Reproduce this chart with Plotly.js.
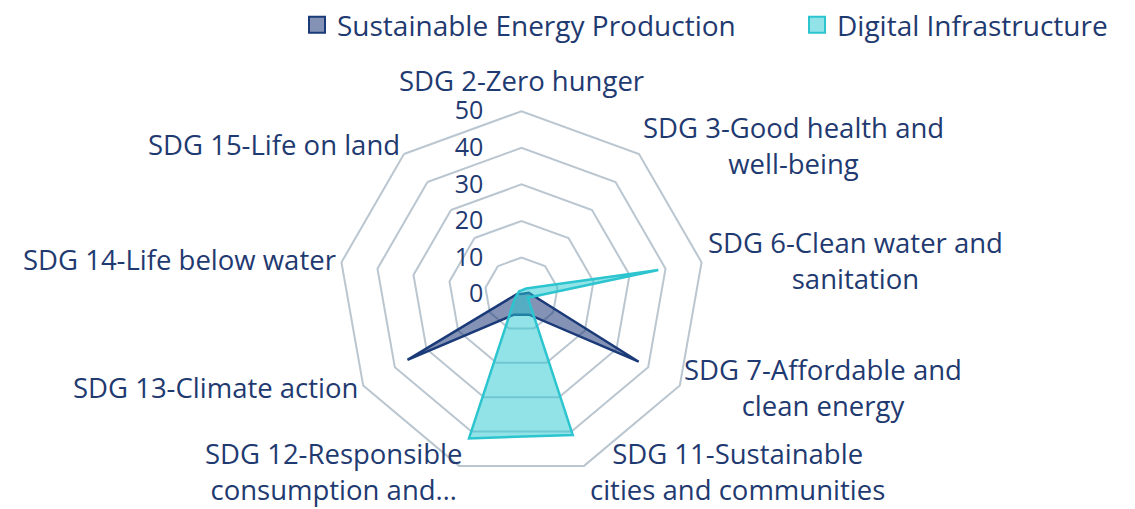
<!DOCTYPE html>
<html>
<head>
<meta charset="utf-8">
<script src="https://cdn.plot.ly/plotly-3.0.1.min.js"></script>
<style>html,body{margin:0;padding:0;background:#fff;}#chart{width:1135px;height:509px;}</style>
</head>
<body>
<div id="chart"></div>
<script>
var categories = [
  "SDG 2-Zero hunger",
  "SDG 3-Good health and<br>well-being",
  "SDG 6-Clean water and<br>sanitation",
  "SDG 7-Affordable and<br>clean energy",
  "SDG 11-Sustainable<br>cities and communities",
  "SDG 12-Responsible<br>consumption and…",
  "SDG 13-Climate action",
  "SDG 14-Life below water",
  "SDG 15-Life on land"
];
var sustainableEnergy = [0, 0, 2, 37, 6, 6, 36, 1, 0];
var digitalInfra = [1, 2, 38, 2, 41, 42, 2, 1, 1];
var radialTicks = [0, 10, 20, 30, 40, 50];

// label block centres (pixels) for the category labels, layout only
var labelPx = [[521, 68], [793, 135], [855, 253], [823, 384], [737, 470], [333, 470], [215, 384], [179, 252], [274, 134]];

var W = 1135, H = 509;
var textColor = "#1F3A70";
var gridColor = "#BAC6D0";
var fontFamily = "Open Sans, sans-serif";
var energyLine = "#1B3A78", energyFill = "rgba(31,58,120,0.55)";
var digitalLine = "#2CC5CF", digitalFill = "rgba(38,200,210,0.5)";

function closed(arr) { return arr.concat([arr[0]]); }

var traces = [
  {
    type: "scatterpolar",
    name: "Sustainable Energy Production",
    r: closed(sustainableEnergy),
    theta: closed(categories),
    mode: "lines",
    fill: "toself",
    fillcolor: energyFill,
    line: {color: energyLine, width: 2.5},
    showlegend: false,
    legendgroup: "e"
  },
  {
    type: "scatterpolar",
    name: "Digital Infrastructure",
    r: closed(digitalInfra),
    theta: closed(categories),
    mode: "lines",
    fill: "toself",
    fillcolor: digitalFill,
    line: {color: digitalLine, width: 2.5},
    showlegend: false,
    legendgroup: "d"
  },
  {
    type: "scatterpolar",
    name: "Sustainable Energy Production",
    r: [null],
    theta: [categories[0]],
    mode: "markers",
    marker: {symbol: "square", size: 16, color: "rgb(132,147,181)", line: {color: energyLine, width: 2}},
    legendgroup: "e",
    legend: "legend"
  },
  {
    type: "scatterpolar",
    name: "Digital Infrastructure",
    r: [null],
    theta: [categories[0]],
    mode: "markers",
    marker: {symbol: "square", size: 16, color: "rgb(146,227,232)", line: {color: digitalLine, width: 2}},
    legendgroup: "d",
    legend: "legend2"
  }
];

var annotations = categories.map(function (c, i) {
  return {
    text: c,
    xref: "paper", yref: "paper",
    x: labelPx[i][0] / W, y: 1 - labelPx[i][1] / H,
    xanchor: "center", yanchor: "middle",
    align: "center",
    showarrow: false,
    font: {family: fontFamily, color: textColor, size: 27.5}
  };
});

var legendFont = {family: fontFamily, color: textColor, size: 28};

var layout = {
  width: W,
  height: H,
  margin: {l: 0, r: 0, t: 0, b: 0},
  paper_bgcolor: "#ffffff",
  font: {family: fontFamily, color: textColor, size: 26},
  showlegend: true,
  legend: {
    orientation: "h",
    x: 297 / W, xanchor: "left",
    y: 1.028, yanchor: "top",
    font: legendFont,
    bgcolor: "rgba(0,0,0,0)"
  },
  legend2: {
    orientation: "h",
    x: 797 / W, xanchor: "left",
    y: 1.028, yanchor: "top",
    font: legendFont,
    bgcolor: "rgba(0,0,0,0)"
  },
  annotations: annotations,
  polar: {
    domain: {x: [0.29383, 0.62511], y: [0.06483, 0.80353]},
    gridshape: "linear",
    bgcolor: "rgba(0,0,0,0)",
    angularaxis: {
      direction: "clockwise",
      rotation: 90,
      showgrid: false,
      showline: true,
      linecolor: gridColor,
      linewidth: 2,
      showticklabels: false,
      ticks: ""
    },
    radialaxis: {
      range: [0, 50],
      tickvals: radialTicks,
      angle: 90,
      side: "counterclockwise",
      showline: false,
      showgrid: true,
      gridcolor: gridColor,
      gridwidth: 2,
      ticks: "outside",
      ticklen: 29,
      tickcolor: "rgba(0,0,0,0)",
      tickangle: 90,
      tickfont: {family: fontFamily, color: textColor, size: 25}
    }
  }
};

Plotly.newPlot("chart", traces, layout, {displayModeBar: false, staticPlot: true});
</script>
</body>
</html>
